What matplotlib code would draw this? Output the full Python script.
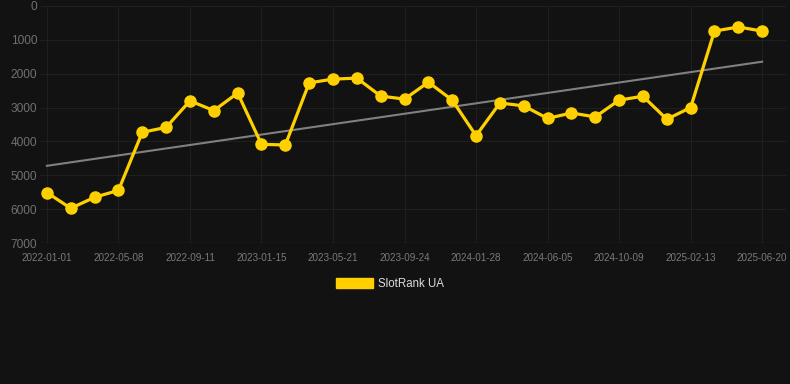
import numpy as np
import matplotlib
matplotlib.use("Agg")
import matplotlib.pyplot as plt
from matplotlib.patches import Patch

# rank values (lower = better), one point every ~42 days
ranks = [5510, 5975, 5650, 5445, 3730, 3585, 2800, 3090, 2570, 4085, 4105,
         2270, 2160, 2130, 2660, 2750, 2250, 2780, 3830, 2865, 2950, 3320,
         3160, 3275, 2780, 2665, 3345, 3000, 740, 620, 740]
tick_labels = ["2022-01-01", "2022-05-08", "2022-09-11", "2023-01-15",
               "2023-05-21", "2023-09-24", "2024-01-28", "2024-06-05",
               "2024-10-09", "2025-02-13", "2025-06-20"]
trend_ends = [4720, 1645]
y_ticks = [0, 1000, 2000, 3000, 4000, 5000, 6000, 7000]

bg = "#121212"
yellow = "#FFD000"

plt.rcParams["font.family"] = ["Liberation Sans", "DejaVu Sans"]

fig = plt.figure(figsize=(7.9, 3.84), dpi=100, facecolor=bg)
ax = fig.add_axes([40/790, 1-243/384, 746/790, 237/384], facecolor=bg)

x = np.arange(len(ranks))
ax.plot([x[0], x[-1]], trend_ends, color="#808080", lw=1.5, zorder=2)
ax.plot(x, ranks, color=yellow, lw=2.3, marker="o", ms=8, zorder=3)

ax.set_xlim(-0.29, 31.0)
ax.set_ylim(7000, 0)
ax.set_xticks(x[::3])
ax.set_xticklabels(tick_labels)
ax.set_yticks(y_ticks)

ax.grid(True, color="#1f1f1f", lw=0.8)
ax.axhline(7000, color="#2a2a2a", lw=1.0, zorder=1)
ax.set_axisbelow(True)
for s in ax.spines.values():
    s.set_visible(False)
ax.tick_params(axis="y", length=0, pad=2, labelsize=8.6, labelcolor="#707070")
ax.tick_params(axis="x", length=0, pad=7, labelsize=7.1, labelcolor="#7a7a7a")

fig.legend(handles=[Patch(facecolor=yellow, edgecolor=yellow)], labels=["SlotRank UA"],
           loc="center", bbox_to_anchor=(390/790, 1-284/384), frameon=False,
           handlelength=3.2, handleheight=0.9, handletextpad=0.5,
           fontsize=8.3, labelcolor="#dddddd")

fig.savefig("out.png", dpi=100, facecolor=bg)
